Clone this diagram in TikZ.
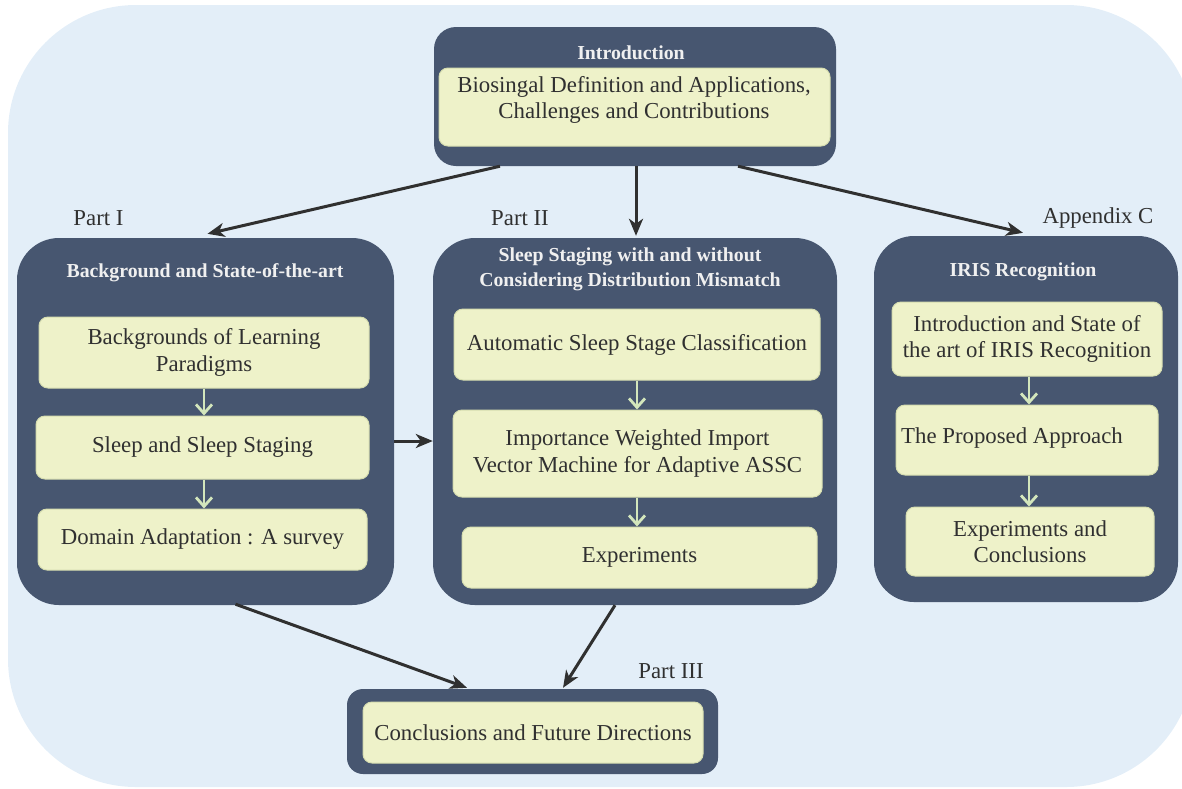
\documentclass[tikz,border=0pt]{standalone}
\usepackage{fontspec}
\setmainfont{Liberation Serif}
\usetikzlibrary{arrows.meta,calc}

\definecolor{bgblue}{HTML}{E3EEF8}
\definecolor{slate}{HTML}{475670}
\definecolor{paper}{HTML}{EEF2C9}
\definecolor{paperedge}{HTML}{D6DDB0}
\definecolor{sage}{HTML}{D3E6BC}
\definecolor{ink}{HTML}{303030}
\definecolor{titlegray}{HTML}{F0F0F0}

\begin{document}
\begin{tikzpicture}[x=1pt,y=-1pt,
  part/.style={fill=slate, draw=none, inner sep=0pt, rounded corners=42pt},
  inbox/.style={fill=paper, draw=paperedge, line width=1pt, inner sep=0pt,
    rounded corners=9pt, align=center, text=ink,
    font=\fontsize{22.8}{26.5}\selectfont},
  size/.style 2 args={minimum width=#1pt, minimum height=#2pt},
  bodytext/.style={align=center, text=ink, inner sep=0pt,
    font=\fontsize{22.8}{26.5}\selectfont},
  titletext/.style={align=center, text=titlegray, inner sep=0pt,
    font=\bfseries\fontsize{19.8}{25}\selectfont},
  partlabel/.style={text=ink, inner sep=0pt, font=\fontsize{22.8}{26}\selectfont},
  bigarrow/.style={draw=ink, line width=3pt,
    -{Stealth[length=17pt,width=14pt,inset=5pt]}},
  smallarrow/.style={draw=sage, line width=2.8pt,
    -{Straight Barb[length=9pt,width=16pt]}}
]
\useasboundingbox (0,0) rectangle (1182,788);
\clip (0,0) rectangle (1182,788);

% page background
\fill[bgblue, rounded corners=128pt] (8,5) rectangle (1194,787);

% Introduction
\node[part, rounded corners=22pt, size={402}{139}] (intro) at (635,96.5) {};
\node[titletext] (introT) at (631,53) {Introduction};
\node[inbox, size={391}{78}] (introB) at (634.5,107) {};
\node[bodytext] (introX) at (634,100)
  {Biosingal Definition and Applications,\\Challenges and Contributions};

% Part I
\node[part, size={377}{367}] (p1) at (205.5,421.5) {};
\node[titletext] (p1T) at (205,273) {Background and State-of-the-art};
\node[inbox, size={330}{71}] (p1a) at (204,352.5) {Backgrounds of Learning\\Paradigms};
\node[inbox, size={333}{63}] (p1b) at (202.5,447.5) {Sleep and Sleep Staging};
\node[inbox, size={329}{61}] (p1c) at (202.5,539.5) {Domain Adaptation : A survey};

% Part II
\node[part, size={404}{367}] (p2) at (635,421.5) {};
\node[titletext] (p2T) at (630,269.5)
  {Sleep Staging with and without\\Considering Distribution Mismatch};
\node[inbox, size={366}{71}] (p2a) at (637,344.5) {Automatic Sleep Stage Classification};
\node[inbox, size={369}{87}] (p2b) at (637.5,453.5)
  {Importance Weighted Import\\Vector Machine for Adaptive ASSC};
\node[inbox, size={355}{61}] (p2c) at (639.5,557.5) {Experiments};

% Appendix C
\node[part, rounded corners=40pt, size={304}{366}] (p3) at (1026,419) {};
\node[titletext] (p3T) at (1023,272) {IRIS Recognition};
\node[inbox, size={270}{74}] (p3a) at (1027,339)
  {Introduction and State of\\the art of IRIS Recognition};
\node[inbox, size={262}{70}] (p3b) at (1027,440) {};
\node[bodytext, anchor=west] (p3bX) at (901,438) {The Proposed Approach};
\node[inbox, size={248}{69}] (p3c) at (1030,541.5) {Experiments and\\Conclusions};

% Part III
\node[part, rounded corners=16pt, size={371}{85}] (p4) at (532.5,731.5) {};
\node[inbox, size={340}{61}] (p4a) at (533,732.5) {Conclusions and Future Directions};

% part labels
\node[partlabel] (lab1) at (98.5,218) {Part I};
\node[partlabel] (lab2) at (520,218) {Part II};
\node[partlabel] (lab3) at (1098,218) {Appendix C};
\node[partlabel] (lab4) at (671,671) {Part III};

% flow inside the parts
\draw[smallarrow] (p1a.south) -- (p1a.south |- p1b.north);
\draw[smallarrow] (p1b.south -| p1a.south) -- (p1a.south |- p1c.north);
\draw[smallarrow] (p2a.south) -- (p2a.south |- p2b.north);
\draw[smallarrow] (p2b.south -| p2a.south) -- (p2a.south |- p2c.north);
\draw[smallarrow] ($(p3a.south)+(2,0)$) -- ($(p3a.south |- p3b.north)+(2,0)$);
\draw[smallarrow] ($(p3b.south)+(2,0)$) -- ($(p3b.south |- p3c.north)+(2,0)$);

% flow between the parts
\draw[bigarrow] ($(intro.south)+(-135,0)$) -- ($(p1.north)+(2,-4)$);
\draw[bigarrow] ($(intro.south)+(1,0)$) -- ($(p2.north)+(1,-2)$);
\draw[bigarrow] ($(intro.south)+(103,0)$) -- ($(p3.north)+(-3,-3)$);
\draw[bigarrow] ($(p1.east)+(0,19.5)$) -- ($(p2.west)+(0,19.5)$);
\draw[bigarrow] ($(p1.south)+(30,-1)$) -- ($(p4.north)+(-65.5,-1)$);
\draw[bigarrow] ($(p2.south)+(-20,0)$) -- ($(p4.north)+(30.5,-1)$);
\end{tikzpicture}
\end{document}
